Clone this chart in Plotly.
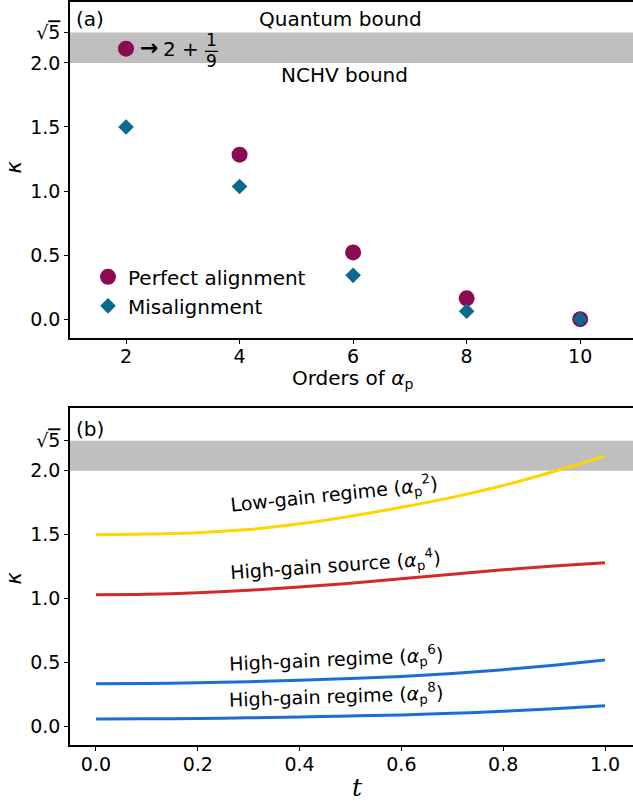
import math
import plotly.graph_objects as go

W, H = 633, 804

# (a) kappa against the order of alpha_p
orders = [2, 4, 6, 8, 10]
kappa_perfect = [2.111, 1.284, 0.521, 0.163, 0.0]
kappa_misaligned = [1.5, 1.035, 0.342, 0.062, 0.0]

# (b) kappa against t for each regime
t_vals = [0.0, 0.1, 0.2, 0.3, 0.4, 0.5, 0.6, 0.7, 0.8, 0.9, 1.0]
kappa_low_a2 = [1.500, 1.505, 1.516, 1.540, 1.585, 1.645, 1.715, 1.792, 1.885, 1.995, 2.115]
kappa_high_a4 = [1.030, 1.033, 1.045, 1.065, 1.090, 1.120, 1.155, 1.190, 1.225, 1.255, 1.280]
kappa_high_a6 = [0.333, 0.335, 0.341, 0.349, 0.360, 0.373, 0.390, 0.413, 0.443, 0.478, 0.518]
kappa_high_a8 = [0.057, 0.058, 0.061, 0.066, 0.072, 0.080, 0.089, 0.101, 0.117, 0.137, 0.161]

nchv_bound = 2.0
quantum_bound = math.sqrt(5)

y_tickvals = [0.0, 0.5, 1.0, 1.5, 2.0, quantum_bound]
y_ticktext = ["0.0", "0.5", "1.0", "1.5", "2.0",
              "√<span style='text-decoration:overline'>5</span>"]
x_tickvals_a = [2, 4, 6, 8, 10]
x_tickvals_b = [0.0, 0.2, 0.4, 0.6, 0.8, 1.0]

C_PERFECT = "#8a0b52"
C_MISALIGN = "#0b6a8a"
C_YELLOW = "#ffd500"
C_RED = "#d42a2a"
C_BLUE = "#1b6fd1"
BAND = "#bfbfbf"
FONT = "DejaVu Sans"


def px(x):
    return x / W


def py(y):
    return 1 - y / H


fig = go.Figure()

fig.add_trace(go.Scatter(
    x=orders, y=kappa_perfect, mode="markers", name="Perfect alignment",
    marker=dict(symbol="circle", size=16, color=C_PERFECT),
    xaxis="x", yaxis="y"))
fig.add_trace(go.Scatter(
    x=orders, y=kappa_misaligned, mode="markers", name="Misalignment",
    marker=dict(symbol="diamond", size=12, color=C_MISALIGN),
    xaxis="x", yaxis="y"))

for ys, col in [(kappa_low_a2, C_YELLOW), (kappa_high_a4, C_RED),
                (kappa_high_a6, C_BLUE), (kappa_high_a8, C_BLUE)]:
    fig.add_trace(go.Scatter(
        x=t_vals, y=ys, mode="lines", showlegend=False,
        line=dict(color=col, width=3, shape="spline"),
        xaxis="x2", yaxis="y2"))

axis_common = dict(
    showline=True, linecolor="black", linewidth=1.6,
    ticks="outside", ticklen=4, tickwidth=1.4, tickcolor="black",
    showgrid=False, zeroline=False,
    tickfont=dict(family=FONT, size=19, color="black"))

fig.update_layout(
    width=W, height=H,
    margin=dict(l=0, r=0, t=0, b=0),
    paper_bgcolor="white", plot_bgcolor="white",
    font=dict(family=FONT, size=19, color="black"),
    xaxis=dict(domain=[px(70), 1.0], range=[1.013, 10.93], tickvals=x_tickvals_a,
               anchor="y", mirror=True, ticklabelstandoff=-4, **axis_common),
    yaxis=dict(domain=[py(337), 1.0], range=[-0.148, 2.475], tickvals=y_tickvals,
               ticktext=y_ticktext, anchor="x", **axis_common),
    xaxis2=dict(domain=[px(70), 1.0], range=[-0.051, 1.055], tickvals=x_tickvals_b,
                tickformat=".1f", anchor="y2", mirror=True, ticklabelstandoff=-3,
                **axis_common),
    yaxis2=dict(domain=[py(745), py(407)], range=[-0.148, 2.492], tickvals=y_tickvals,
                ticktext=y_ticktext, anchor="x2", **axis_common),
    legend=dict(x=px(88), y=py(256), xanchor="left", yanchor="top",
                bgcolor="rgba(0,0,0,0)", font=dict(family=FONT, size=20, color="black"),
                itemwidth=30),
)

# grey band between the NCHV and quantum bounds
for xr, yr in [("x domain", "y"), ("x2 domain", "y2")]:
    fig.add_shape(type="rect", xref=xr, yref=yr, x0=0, x1=1,
                  y0=nchv_bound, y1=quantum_bound,
                  fillcolor=BAND, line=dict(width=0), layer="below")

# fraction bar of 2 + 1/9
fig.add_shape(type="line", xref="paper", yref="paper",
              x0=px(205), x1=px(218), y0=py(49.5), y1=py(49.5),
              line=dict(color="black", width=1.3))


def label(text, x, y, size=20, angle=0, family=FONT, **kw):
    fig.add_annotation(text=text, x=px(x), y=py(y), xref="paper", yref="paper",
                       showarrow=False, textangle=angle, xanchor="center", yanchor="middle",
                       font=dict(family=family, size=size, color="black"), **kw)


label("(a)", 90, 17)
label("(b)", 90, 428)
label("Quantum bound", 340, 17)
label("NCHV bound", 344, 73)
label("<b>→</b>", 149, 46, size=22)
label("2 +", 181, 47, size=20)
label("1", 211, 38, size=17)
label("9", 211, 59, size=17)

label("Orders of <i>α</i><sub>p</sub>", 352, 378, size=20)
label("<i>t</i>", 357, 787, size=25, family="DejaVu Serif")
label("<i>κ</i>", 14, 166, size=21, angle=-90)
label("<i>κ</i>", 14, 578, size=21, angle=-90)

label("Low-gain regime (<i>α</i><sub>p</sub><sup>2</sup>)", 334, 494, size=19, angle=-6)
label("High-gain source (<i>α</i><sub>p</sub><sup>4</sup>)", 335, 565, size=19, angle=-4)
label("High-gain regime (<i>α</i><sub>p</sub><sup>6</sup>)", 336, 659, size=19, angle=-2.5)
label("High-gain regime (<i>α</i><sub>p</sub><sup>8</sup>)", 336, 696, size=19, angle=-2)

fig.write_html("out.html")
